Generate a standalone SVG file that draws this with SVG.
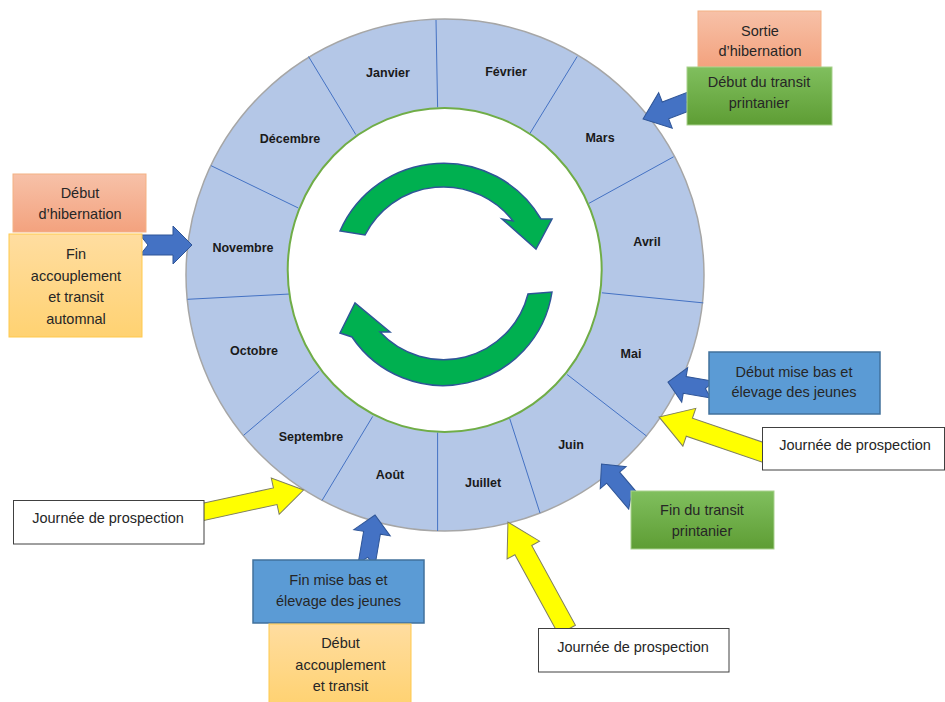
<svg xmlns="http://www.w3.org/2000/svg" width="945" height="702" viewBox="0 0 945 702">
<defs>
<style>
.ring{fill:#B4C7E7;stroke:#A6A6A6;stroke-width:1.5}
.spoke{stroke:#4472C4;stroke-width:1}
.inner{fill:#FFFFFF;stroke:#70AD47;stroke-width:2}
.cyc{fill:#00B050;stroke:#2F5597;stroke-width:1.5}
.month{font-family:"Liberation Sans",Arial,sans-serif;font-size:12.5px;font-weight:bold;fill:#1A1A1A;text-anchor:middle}
.lbl{font-family:"Liberation Sans",Arial,sans-serif;font-size:14.5px;fill:#262626;text-anchor:middle}
.blue-arrow{fill:#4472C4;stroke:#2F5597;stroke-width:1}
.yellow-arrow{fill:#FFFF00;stroke:#7F7F5F;stroke-width:1}
.box-orange{fill:url(#gOrange);stroke:#F4B183;stroke-width:1}
.box-green{fill:url(#gGreen);stroke:#A9D18E;stroke-width:1}
.box-yellow{fill:url(#gYellow);stroke:#FFC94D;stroke-width:1}
.box-blue{fill:#5B9BD5;stroke:#41719C;stroke-width:1.5}
.box-white{fill:#FFFFFF;stroke:#404040;stroke-width:1}
</style>
<linearGradient id="gOrange" x1="0" y1="0" x2="0" y2="1"><stop offset="0" stop-color="#F7C1A8"/><stop offset="1" stop-color="#F3A27E"/></linearGradient>
<linearGradient id="gGreen" x1="0" y1="0" x2="0" y2="1"><stop offset="0" stop-color="#80BF5E"/><stop offset="1" stop-color="#5E9D34"/></linearGradient>
<linearGradient id="gYellow" x1="0" y1="0" x2="0" y2="1"><stop offset="0" stop-color="#FFDDA0"/><stop offset="1" stop-color="#FFD272"/></linearGradient>
</defs>
<rect width="945" height="702" fill="#FFFFFF"/>

<g id="wheel">
<ellipse class="ring" cx="445" cy="275" rx="259" ry="256"/>
<g id="spokes">
<line class="spoke" x1="436" y1="20" x2="437.6" y2="107.4"/>
<line class="spoke" x1="577.2" y1="56.5" x2="529.9" y2="133.5"/>
<line class="spoke" x1="673.6" y1="156.8" x2="589" y2="203.3"/>
<line class="spoke" x1="601.9" y1="292.8" x2="703.3" y2="302.9"/>
<line class="spoke" x1="567.1" y1="374.5" x2="646.5" y2="436"/>
<line class="spoke" x1="509.6" y1="418.2" x2="540" y2="513"/>
<line class="spoke" x1="437.6" y1="432.5" x2="437.6" y2="531"/>
<line class="spoke" x1="372.7" y1="416.4" x2="322" y2="500.5"/>
<line class="spoke" x1="319.3" y1="371" x2="243.6" y2="435.3"/>
<line class="spoke" x1="289.9" y1="294" x2="187.4" y2="299.3"/>
<line class="spoke" x1="298.3" y1="208" x2="211.1" y2="165.7"/>
<line class="spoke" x1="355.8" y1="134.6" x2="308.5" y2="56.5"/>
</g>
<ellipse class="inner" cx="444.7" cy="270" rx="157" ry="162"/>
<g id="months">
<text class="month" x="388" y="77">Janvier</text>
<text class="month" x="506" y="76">Février</text>
<text class="month" x="600" y="141.5">Mars</text>
<text class="month" x="647" y="246">Avril</text>
<text class="month" x="631" y="358">Mai</text>
<text class="month" x="571" y="448.5">Juin</text>
<text class="month" x="483" y="486.5">Juillet</text>
<text class="month" x="390" y="478.5">Août</text>
<text class="month" x="311" y="441">Septembre</text>
<text class="month" x="254" y="354.5">Octobre</text>
<text class="month" x="243" y="251.5">Novembre</text>
<text class="month" x="290" y="143">Décembre</text>
</g>
<g id="cycle-arrows">
<path class="cyc" d="M340,231 A113,113 0 0 1 541,219 L552,219 L536,249 L502,219 L513,221 A88,88 0 0 0 365,235 Z"/>
<path class="cyc" d="M552,292 A110,110 0 0 1 352,337 L340,333 L355,303 L390,332 L380,332 A87,87 0 0 0 528,294 Z"/>
</g>
</g>

<g id="connectors">
<path class="yellow-arrow" transform="translate(200,512.6) rotate(-12.3)" d="M0,-8.5 L77,-8.5 L77,-18.5 L106,0 L77,18.5 L77,8.5 L0,8.5 Z"/>
<path class="yellow-arrow" transform="translate(767.9,454) rotate(198.8)" d="M0,-9.5 L83,-9.5 L83,-20 L115,0 L83,20 L83,9.5 L0,9.5 Z"/>
<path class="yellow-arrow" transform="translate(567,629.9) rotate(241.3)" d="M0,-9.6 L91,-9.6 L91,-18.5 L123,0 L91,18.5 L91,9.6 L0,9.6 Z"/>
<path class="blue-arrow" transform="translate(694.4,99.3) rotate(159)" d="M0,-9 L31,-9 L31,-19 L55,0 L31,19 L31,9 L0,9 L8,0 Z"/>
<path class="blue-arrow" transform="translate(140,245) rotate(0)" d="M0,-10 L33,-10 L33,-19 L52,0 L33,19 L33,10 L0,10 L8,0 Z"/>
<path class="blue-arrow" transform="translate(712.3,389.7) rotate(189.8)" d="M0,-8.5 L28,-8.5 L28,-17.5 L45,0 L28,17.5 L28,8.5 L0,8.5 L7,0 Z"/>
<path class="blue-arrow" transform="translate(635.2,503.6) rotate(229.6)" d="M0,-8.5 L34,-8.5 L34,-17 L52,0 L34,17 L34,8.5 L0,8.5 L7,0 Z"/>
<path class="blue-arrow" transform="translate(366.6,564.3) rotate(-80.3)" d="M0,-8.5 L32,-8.5 L32,-18.5 L50,0 L32,18.5 L32,8.5 L0,8.5 L7,0 Z"/>
</g>

<g id="node-sortie-hibernation">
<rect class="box-orange" x="698" y="11" width="123" height="56"/>
<text class="lbl" x="760" y="35.5">Sortie</text>
<text class="lbl" x="760" y="56">d’hibernation</text>
</g>
<g id="node-debut-transit-printanier">
<rect class="box-green" x="687" y="67" width="145" height="58"/>
<text class="lbl" x="759" y="87">Début du transit</text>
<text class="lbl" x="759" y="107.5">printanier</text>
</g>
<g id="node-debut-hibernation">
<rect class="box-orange" x="13" y="174" width="133" height="58"/>
<text class="lbl" x="80" y="198">Début</text>
<text class="lbl" x="80" y="219">d’hibernation</text>
</g>
<g id="node-fin-accouplement">
<rect class="box-yellow" x="9" y="234" width="133" height="103"/>
<text class="lbl" x="76" y="259">Fin</text>
<text class="lbl" x="76" y="280.5">accouplement</text>
<text class="lbl" x="76" y="302">et transit</text>
<text class="lbl" x="76" y="323.5">automnal</text>
</g>
<g id="node-debut-mise-bas">
<rect class="box-blue" x="709" y="352" width="171" height="62"/>
<text class="lbl" x="794" y="376.5">Début mise bas et</text>
<text class="lbl" x="794" y="397">élevage des jeunes</text>
</g>
<g id="node-journee-droite">
<rect class="box-white" x="762.5" y="427.5" width="182" height="42.5"/>
<text class="lbl" x="855" y="450">Journée de prospection</text>
</g>
<g id="node-fin-transit-printanier">
<rect class="box-green" x="631" y="491" width="143" height="58"/>
<text class="lbl" x="702" y="515">Fin du transit</text>
<text class="lbl" x="702" y="536">printanier</text>
</g>
<g id="node-journee-gauche">
<rect class="box-white" x="13.5" y="500.5" width="190.5" height="43.5"/>
<text class="lbl" x="108" y="523">Journée de prospection</text>
</g>
<g id="node-fin-mise-bas">
<rect class="box-blue" x="253" y="560" width="171" height="63"/>
<text class="lbl" x="338.5" y="585">Fin mise bas et</text>
<text class="lbl" x="338.5" y="606">élevage des jeunes</text>
</g>
<g id="node-debut-accouplement">
<rect class="box-yellow" x="269" y="624" width="142" height="80"/>
<text class="lbl" x="340.5" y="648">Début</text>
<text class="lbl" x="340.5" y="669.5">accouplement</text>
<text class="lbl" x="340.5" y="691">et transit</text>
</g>
<g id="node-journee-bas">
<rect class="box-white" x="538.5" y="628.5" width="190.5" height="43.5"/>
<text class="lbl" x="633" y="652">Journée de prospection</text>
</g>
</svg>
